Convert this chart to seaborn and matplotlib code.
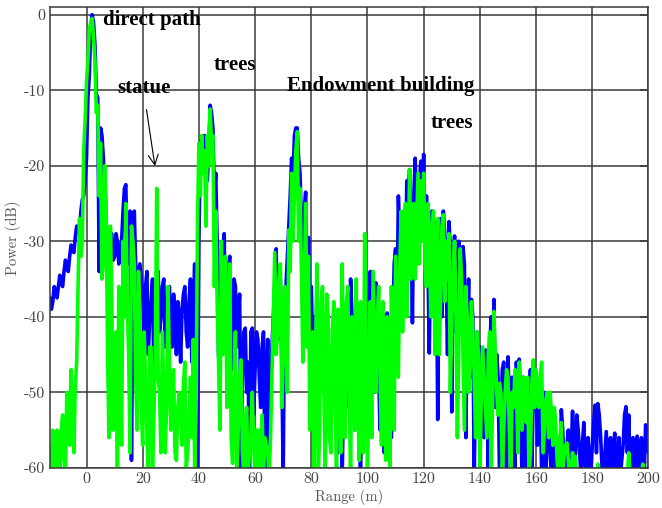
import numpy as np
import pandas as pd
import matplotlib
matplotlib.use('Agg')
import matplotlib.pyplot as plt
import seaborn as sns

sns.set_style('white')
plt.rcParams['font.family'] = ['cmr10', 'DejaVu Serif']
plt.rcParams['axes.unicode_minus'] = False
plt.rcParams['axes.formatter.use_mathtext'] = False

# range bins (m): whole metres and the half-metre points in between
range_m = np.arange(-13, 201)
range_half = np.arange(-12.5, 200, 1.0)

# blue trace (dB) at whole metres
power_blue = [
    -37.5, -38, -36.5, -36, -35.5, -34, -33.5, -32, -31, -29.5, -28, -26, -24,      # -13..-1
    -19, -8, 0, -4, -11, -15, -19, -27, -30, -29,                                   # 0..9
    -32, -30, -31, -26, -22.5, -28, -59, -26, -34, -33,                             # 10..19
    -37, -36, -45, -38, -48, -37, -42, -36, -44, -38,                               # 20..29
    -41, -37, -45, -40, -39, -36, -44, -35, -40, -61,                               # 30..39
    -30, -16.5, -16, -22, -12, -15, -21, -45, -31, -29,                             # 40..49
    -38, -32, -47, -36, -40, -61, -42, -50, -61, -41.5,                             # 50..59
    -47, -43, -52, -42, -49, -58, -44, -36, -43, -35,                               # 60..69
    -61, -36, -28, -19, -16, -15, -21, -33, -23.5, -29.5,                           # 70..79
    -36, -40, -37, -43, -40, -48, -45, -52, -44, -48,                               # 80..89
    -46, -61, -44, -38, -35, -47, -42, -48, -52, -40,                               # 90..99
    -46, -34, -44, -35.5, -48, -40, -58, -39.5, -46, -42.6,                         # 100..109
    -31, -24, -34, -26, -22, -20.5, -40.8, -19, -28, -19.4,                         # 110..119
    -18.5, -24, -44.8, -26, -27.5, -53.6, -27, -26, -34, -27.4,                     # 120..129
    -52.6, -29.3, -36, -32, -30.7, -56, -35, -37.7, -61, -42,                       # 130..139
    -44, -50, -44.4, -61, -40, -37.7, -45, -61, -47, -52,                           # 140..149
    -45.3, -58, -50, -46, -45.6, -61, -49, -54, -47, -50,                           # 150..159
    -48.5, -52, -61, -50, -53, -58, -55, -61, -56, -52.3,                           # 160..169
    -60, -57, -61, -52.5, -58, -55, -61, -54, -61, -60,                             # 170..179
    -57, -51.7, -51.5, -56, -61, -55.2, -59, -61, -55.4, -60,                       # 180..189
    -61, -57, -51.9, -53, -57, -61, -55.8, -61, -60, -54.3,                         # 190..199
    -58,                                                                            # 200
]

# blue trace (dB) at the half metres (-12.5 .. 199.5)
power_blue_half = [
    -39, -36, -37.5, -34.5, -36, -32.5, -34, -30.5, -31.5, -28, -29, -24.5, -22,    # -12.5..-0.5
    -11, -2, -1, -10.5, -34, -16, -23, -33, -29, -32.5,                             # 0.5..9.5
    -29, -33, -30, -23, -33, -26, -37, -33, -40, -35,
    -45, -34, -40, -35, -43, -34, -40, -35, -41, -36,
    -44, -40, -38, -46, -37, -42, -38, -46, -33, -60,
    -17, -20, -16.5, -18, -13, -24, -30, -48, -35, -44,
    -33, -41, -35, -44, -37, -48, -41.5, -46, -42, -53,
    -42, -48, -44, -61, -43, -50, -40, -31, -40, -46,
    -38, -32, -24, -22, -15, -19, -28, -26, -38, -40,
    -44, -50, -41, -48, -43, -55, -46, -49, -45, -58,
    -47, -50, -45, -52, -40, -55, -46, -61, -45, -50,
    -38, -40, -50, -38, -55, -44, -42, -50, -56, -33,
    -40, -30, -28, -35, -23, -27, -24, -33, -22, -28,
    -30, -32, -30, -36, -29, -33, -40, -29, -45, -31,
    -34, -42, -30, -40, -33, -42, -48, -40, -47, -52,
    -47, -56, -48, -45, -50, -52, -48, -55, -46, -61,
    -51, -48, -61, -50, -52, -48, -61, -51, -61, -52,
    -57, -50, -55, -61, -52, -61, -57, -58, -61, -55,
    -61, -55, -58, -61, -53, -58, -57, -60, -56, -61,
    -54, -58, -53, -60, -58, -61, -56, -58, -61, -56,
    -59, -53, -58, -61, -56, -58, -61, -56, -61, -56,                               # 190.5..199.5
]

# green trace (dB) at whole metres
power_green = [
    -57, -55, -60, -56, -55, -59, -50, -57, -53, -49, -36, -32, -18,                # -13..-1
    -9, -2, -0.5, -6, -12, -17, -33, -25, -56, -38,                                 # 0..9
    -52, -61, -46, -30, -25, -45, -28, -33, -55, -40,                               # 10..19
    -57, -48, -61, -44, -53, -23, -50, -42, -58, -36,                               # 20..29
    -55, -47, -59, -50, -57, -46, -58, -48, -43, -52,                               # 30..39
    -17, -16, -18, -16, -12.5, -16, -26, -46, -30, -38,                             # 40..49
    -52, -33, -59.4, -42, -55, -45.7, -61, -52, -58, -50,                           # 50..59
    -61, -55, -57, -61, -57, -61, -48, -31.5, -42, -33,                             # 60..69
    -46, -38, -28.5, -21, -24, -15.5, -23, -46, -25, -32,                           # 70..79
    -50, -61, -33, -55, -36, -61, -40, -58, -38, -61,                               # 80..89
    -45, -33, -56, -36, -61, -42, -35, -59, -44, -29,                               # 90..99
    -61, -38, -34, -50, -36, -57, -46, -40, -61, -42,                               # 100..109
    -32, -48, -26, -31, -40, -20.5, -30, -35, -21, -22,                             # 110..119
    -21, -36, -28, -30, -45, -27, -38, -26.5, -30, -29,                             # 120..129
    -41, -30, -56, -31, -45, -36, -50, -38, -48, -42,                               # 130..139
    -61, -44, -52, -45, -61, -39.3, -50, -48.8, -61, -50,                           # 140..149
    -48, -61, -52, -48, -46, -55, -50, -48, -58, -45.7,                             # 150..159
    -47, -52, -46, -55, -50, -50, -57, -54, -61, -54,                               # 160..169
    -58, -56.7, -61, -58, -58.5, -61, -61, -61, -61, -61,                           # 170..179
    -61, -61, -59.5, -61, -61, -61, -61, -61, -61, -61,                             # 180..189
    -61, -61, -61, -58, -61, -61, -61, -61, -59.5, -61,                             # 190..199
    -61,                                                                            # 200
]

# green trace (dB) at the half metres (-12.5 .. 199.5)
power_green_half = [
    -61, -58, -55, -61, -53, -61, -54, -47, -58, -46, -27, -30, -14,                # -12.5..-0.5
    -6, -1, -3, -13, -24, -35, -20, -45, -28, -55,                                  # 0.5..9.5
    -42, -36, -57, -40, -38, -58, -30, -48, -34, -52,
    -42, -55, -44, -60, -45, -48, -58, -50, -52, -46,
    -48, -58, -52, -53, -49, -60, -54, -56, -60, -28,
    -24, -21, -28, -20, -17, -36, -38, -55, -45, -32,
    -43, -56, -50, -61, -48, -58, -54, -61, -56, -57,
    -55, -61, -53, -56, -58, -56, -40, -45, -35, -52,
    -36, -50, -34, -30, -18, -30, -34, -36, -44, -55,
    -42, -45, -61, -38, -50, -37, -56, -42, -52, -39,
    -58, -48, -38, -50, -40, -55, -48, -38, -58, -42,
    -50, -56, -42, -40, -48, -38, -59, -47, -36, -55,
    -40, -33, -42, -25, -33, -35, -25, -28, -33, -30,
    -33, -25, -40, -26, -34, -45, -28, -38, -35, -50,
    -33, -40, -44, -35, -55, -40, -47, -42, -56, -45,
    -51, -48, -56, -42, -52, -45, -53, -50, -55, -47,
    -55, -50, -47, -58, -50, -48, -54, -61, -49, -52,
    -50, -48, -58, -51, -56, -53, -52, -59, -56, -61,
    -57, -59, -61, -61, -61, -61, -61, -61, -61, -61,
    -61, -61, -61, -61, -61, -61, -61, -61, -61, -61,
    -61, -61, -61, -61, -61, -61, -61, -61, -61, -61,                               # 190.5..199.5
]

df = pd.concat([
    pd.DataFrame({'range': range_m, 'blue': power_blue, 'green': power_green}),
    pd.DataFrame({'range': range_half, 'blue': power_blue_half, 'green': power_green_half}),
]).sort_values('range')

fig = plt.figure(figsize=(6.62, 5.08), dpi=100)
ax = fig.add_axes([0.0755, 0.079, 0.904, 0.907])

sns.lineplot(data=df, x='range', y='blue', color='#0000ff', lw=2.6, ax=ax)
sns.lineplot(data=df, x='range', y='green', color='#00ff00', lw=2.6, ax=ax)

ax.set_xlim(-13, 200)
ax.set_ylim(-60, 1)
ax.set_xticks(np.arange(0, 201, 20))
ax.set_yticks(np.arange(-60, 1, 10))
ax.grid(True, color='#3a3a3a', lw=1.1)
for s in ax.spines.values():
    s.set_color('#3a3a3a')
    s.set_linewidth(1.1)
ax.tick_params(direction='in', length=6, width=1.1, colors='#3a3a3a',
               labelsize=11.5, labelcolor='#444444', right=True)
ax.set_xlabel('Range (m)', fontsize=10.5, color='#555555', labelpad=2)
ax.set_ylabel('Power (dB)', fontsize=10.5, color='#555555', labelpad=2)

# annotations
bold = dict(family=['Liberation Serif', 'DejaVu Serif'], fontweight='bold',
            fontsize=15, color='black', va='center', ha='left')
ax.text(6, -0.7, 'direct path', **bold)
ax.text(11, -9.7, 'statue', **bold)
ax.text(45.2, -6.6, 'trees', **bold)
ax.text(71.5, -9.5, 'Endowment building', **bold)
ax.text(122.4, -14.3, 'trees', **bold)
ax.annotate('', xy=(24.5, -20.4), xytext=(21.2, -12.2),
            arrowprops=dict(arrowstyle='->', color='black', lw=0.8,
                            mutation_scale=18))

plt.savefig('out.png', dpi=100)
